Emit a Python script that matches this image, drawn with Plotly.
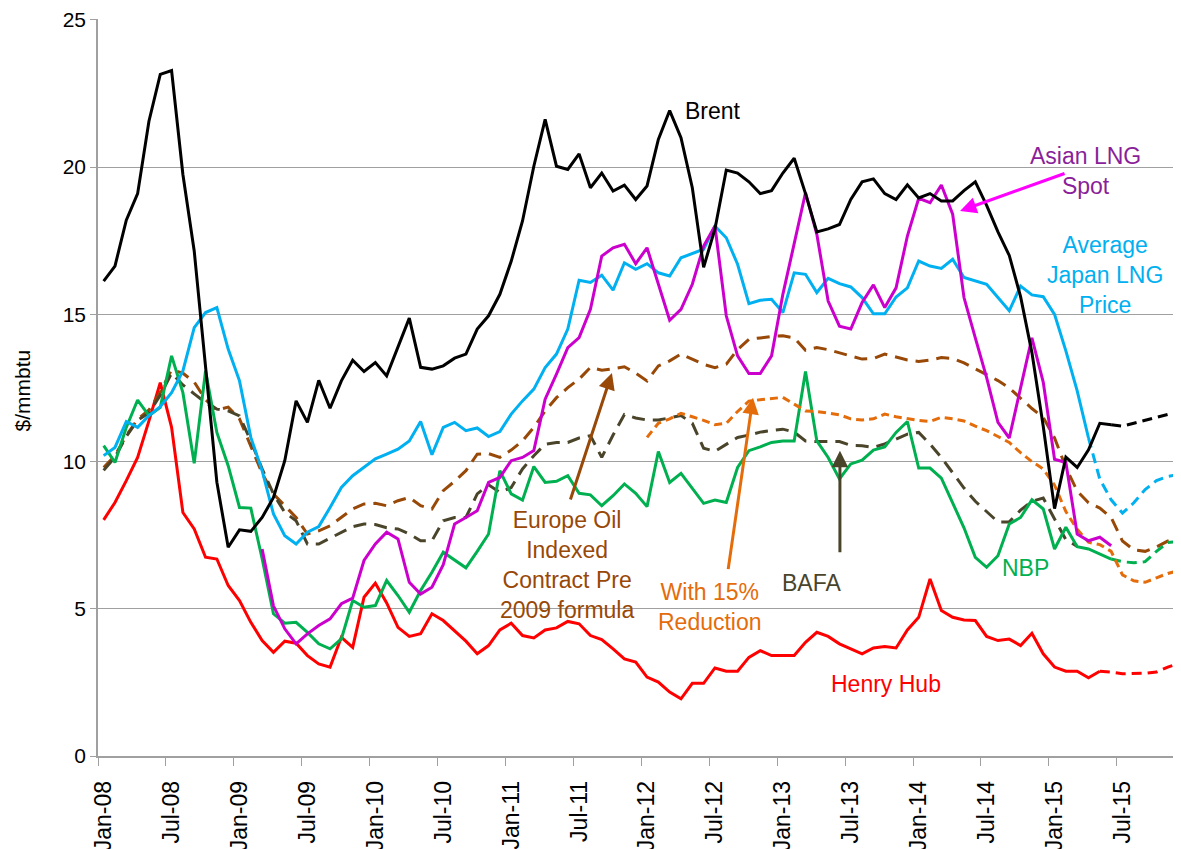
import pandas as pd
import plotly.graph_objects as go

# monthly categories Jan-08 .. Dec-15
months = [d.strftime("%b-%y") for d in pd.date_range("2008-01-01", "2015-12-01", freq="MS")]

brent = [
    16.13, 16.64, 18.2, 19.1, 21.56, 23.15, 23.28, 19.75, 17.15, 13.2, 9.3, 7.09,
    7.68, 7.63, 8.1, 8.78, 10.03, 12.06, 11.33, 12.76, 11.81, 12.74, 13.44, 13.06,
    13.36, 12.91, 13.87, 14.87, 13.2, 13.14, 13.25, 13.51, 13.65, 14.5, 14.95, 15.68,
    16.8, 18.17, 20.03, 21.62, 20.03, 19.92, 20.45, 19.3, 19.8, 19.19, 19.39, 18.9,
    19.36, 20.94, 21.92, 21.0, 19.3, 16.6, 17.9, 19.9, 19.8, 19.5, 19.1, 19.2,
    19.8, 20.3, 19.1, 17.8, 17.9, 18.05, 18.9, 19.5, 19.6, 19.1, 18.9, 19.4,
    18.95, 19.1, 18.85, 18.85, 19.2, 19.5, 18.7, 17.8, 17.0, 15.6, 13.7, 11.2,
    8.4, 10.15, 9.8, 10.4, 11.3, 11.25, 11.2, 11.3, 11.4, 11.5, 11.6, 11.67,
]
japan_lng = [
    10.2, 10.48, 11.36, 11.16, 11.56, 11.86, 12.34, 13.08, 14.55, 15.06, 15.23, 13.82,
    12.74, 10.82, 9.69, 8.22, 7.48, 7.2, 7.6, 7.79, 8.44, 9.12, 9.52, 9.8,
    10.09, 10.25, 10.42, 10.7, 11.36, 10.23, 11.16, 11.33, 11.05, 11.14, 10.85, 11.02,
    11.61, 12.06, 12.46, 13.19, 13.65, 14.5, 16.16, 16.08, 16.33, 15.82, 16.75, 16.53,
    16.72, 16.41, 16.3, 16.92, 17.06, 17.21, 18.0, 17.6, 16.7, 15.36, 15.48, 15.51,
    15.06, 16.41, 16.36, 15.74, 16.22, 16.04, 15.93, 15.57, 15.02, 15.02, 15.59, 15.9,
    16.81, 16.64, 16.56, 16.87, 16.25, 16.13, 16.02, 15.57, 15.12, 15.96, 15.66, 15.6,
    15.0, 13.76, 12.4, 10.8, 9.4, 8.7, 8.25, 8.6, 9.05, 9.35, 9.5, 9.55,
]
asian_spot = [None] * 14 + [
    7.03, 5.1, 4.32, 3.81, 4.15, 4.43, 4.66, 5.17, 5.36, 6.64,
    7.2, 7.6, 7.37, 5.9, 5.5, 5.73, 6.5, 7.88, 8.1, 8.33, 9.29, 9.46,
    10.03, 10.14, 10.37, 12.12, 12.97, 13.87, 14.21, 15.17, 16.98, 17.26, 17.38, 16.72,
    17.26, 16.02, 14.8, 15.17, 16.02, 17.32, 18.0, 14.95, 13.59, 12.99, 12.99, 13.59,
    15.68, 17.4, 19.13, 17.72, 15.45, 14.6, 14.5, 15.4, 16.0, 15.23, 15.9, 17.66,
    18.94, 18.79, 19.39, 18.4, 15.57, 14.2, 12.85, 11.33, 10.8, 12.5, 14.2, 12.7,
    10.08, 9.97, 7.54, 7.31, 7.43, 7.14,
] + [None] * 6
nbp = [
    10.54, 9.97, 11.16, 12.09, 11.56, 11.84, 13.59, 12.34, 9.94, 13.08, 10.99, 9.86,
    8.44, 8.42, 6.7, 4.83, 4.51, 4.54, 4.2, 3.81, 3.64, 3.98, 5.28, 5.05,
    5.11, 5.96, 5.45, 4.88, 5.62, 6.24, 6.92, 6.64, 6.39, 6.95, 7.54, 9.69,
    8.9, 8.69, 9.83, 9.29, 9.33, 9.52, 8.92, 8.87, 8.5, 8.84, 9.24, 8.92,
    8.47, 10.34, 9.29, 9.6, 9.07, 8.58, 8.69, 8.61, 9.8, 10.37, 10.5, 10.65,
    10.7, 10.7, 13.06, 10.7, 10.14, 9.41, 9.92, 10.05, 10.39, 10.5, 10.99, 11.36,
    9.78, 9.78, 9.44, 8.6, 7.75, 6.75, 6.41, 6.8, 7.88, 8.1, 8.7, 8.39,
    7.03, 7.77, 7.11, 7.03, 6.86, 6.69, 6.6, 6.56, 6.6, 6.95, 7.25, 7.29,
]
henry_hub = [
    8.02, 8.61, 9.35, 10.14, 11.38, 12.68, 11.16, 8.27, 7.71, 6.75, 6.69, 5.79,
    5.28, 4.54, 3.92, 3.52, 3.9, 3.83, 3.41, 3.13, 3.02, 4.03, 3.69, 5.39,
    5.87, 5.2, 4.37, 4.06, 4.15, 4.83, 4.6, 4.26, 3.9, 3.47, 3.75, 4.28,
    4.51, 4.09, 4.01, 4.28, 4.35, 4.57, 4.49, 4.09, 3.95, 3.64, 3.3, 3.19,
    2.68, 2.51, 2.17, 1.94, 2.47, 2.47, 2.99, 2.88, 2.88, 3.35, 3.58, 3.41,
    3.41, 3.41, 3.86, 4.2, 4.06, 3.81, 3.64, 3.47, 3.67, 3.72, 3.67, 4.28,
    4.71, 6.01, 4.94, 4.71, 4.62, 4.6, 4.06, 3.92, 3.97, 3.75, 4.17, 3.47,
    3.02, 2.88, 2.88, 2.66, 2.88, 2.85, 2.79, 2.79, 2.81, 2.85, 3.02, 3.15,
]
oil_indexed = [
    9.8, 10.2, 10.88, 11.44, 11.75, 12.35, 13.12, 13.0, 12.7, 12.1, 11.75, 11.85,
    11.45, 10.5, 9.6, 8.9, 8.5, 8.1, 7.54, 7.65, 7.82, 8.1, 8.39, 8.56,
    8.58, 8.5, 8.67, 8.78, 8.5, 8.39, 9.01, 9.33, 9.69, 10.25, 10.27, 10.14,
    10.39, 10.7, 11.16, 11.72, 12.17, 12.51, 12.8, 13.2, 13.1, 13.15, 13.22, 13.0,
    12.74, 13.25, 13.42, 13.65, 13.48, 13.3, 13.19, 13.31, 13.8, 14.15, 14.2, 14.25,
    14.27, 14.2, 13.78, 13.87, 13.8, 13.7, 13.6, 13.48, 13.5, 13.65, 13.55, 13.45,
    13.4, 13.45, 13.53, 13.5, 13.35, 13.14, 12.95, 12.75, 12.5, 12.15, 11.8, 11.5,
    10.8, 9.8, 9.0, 8.6, 8.42, 8.1, 7.3, 7.0, 6.95, 7.1, 7.3, 7.35,
]
bafa = [
    9.7, 10.15, 10.85, 11.4, 11.65, 12.25, 13.0, 12.6, 12.3, 12.0, 11.78, 11.72,
    11.55, 10.7, 9.75, 8.9, 8.27, 7.99, 7.2, 7.2, 7.4, 7.6, 7.79, 7.88,
    7.86, 7.75, 7.71, 7.54, 7.31, 7.31, 7.99, 8.1, 8.1, 8.9, 9.21, 8.95,
    9.12, 9.75, 10.2, 10.59, 10.65, 10.65, 10.8, 10.88, 10.14, 10.9, 11.6, 11.48,
    11.41, 11.41, 11.48, 11.56, 11.3, 10.45, 10.35, 10.6, 10.82, 10.9, 11.0, 11.05,
    11.1, 11.0, 10.7, 10.68, 10.68, 10.68, 10.55, 10.54, 10.48, 10.6, 10.76, 10.93,
    10.99, 10.59, 10.14, 9.63, 9.1, 8.65, 8.3, 7.95, 7.95, 8.35, 8.65, 8.76,
    8.05, 7.35, 7.12,
] + [None] * 9
reduction_15 = [None] * 48 + [
    10.82, 11.3, 11.45, 11.64, 11.52, 11.4, 11.25, 11.3, 11.7, 12.05, 12.1, 12.15,
    12.18, 11.95, 11.72, 11.7, 11.65, 11.59, 11.45, 11.41, 11.45, 11.61, 11.52, 11.45,
    11.4, 11.36, 11.5, 11.45, 11.38, 11.2, 11.05, 10.85, 10.65, 10.3, 10.0, 9.75,
    9.2, 8.3, 7.7, 7.26, 7.18, 6.95, 6.15, 5.95, 5.9, 6.05, 6.2, 6.3,
]

# index where the projected (dashed) part of each series begins
brent_proj = months.index("Jun-15")
japan_proj = months.index("Apr-15")
nbp_proj = months.index("Jun-15")
henry_proj = months.index("May-15")

tick_labels = months[::6]
FONT = "Liberation Sans, Arial, sans-serif"

x = list(range(len(months)))


def split(values, start):
    solid = [v if i <= start else None for i, v in enumerate(values)]
    dashed = [v if i >= start else None for i, v in enumerate(values)]
    return solid, dashed


fig = go.Figure()


def add(values, color, dash="solid", width=3):
    fig.add_trace(
        go.Scatter(
            x=x,
            y=values,
            mode="lines",
            line=dict(color=color, width=width, dash=dash),
            hoverinfo="skip",
            showlegend=False,
        )
    )


TAIL = "10px,6px"
hh_s, hh_d = split(henry_hub, henry_proj)
add(hh_s, "#ff0000")
add(hh_d, "#ff0000", TAIL)
add(oil_indexed, "#984807", "13px,8px")
add(bafa, "#4a452a", "13px,8px")
nbp_s, nbp_d = split(nbp, nbp_proj)
add(nbp_s, "#00b050")
add(nbp_d, "#00b050", TAIL)
add(reduction_15, "#e46c0a", "8px,5px")
jp_s, jp_d = split(japan_lng, japan_proj)
add(jp_s, "#00b0f0")
add(jp_d, "#00b0f0", TAIL)
add(asian_spot, "#cc00cc")
br_s, br_d = split(brent, brent_proj)
add(br_s, "#000000")
add(br_d, "#000000", TAIL)

labels = [
    ("Brent", 53.8, 21.9, "#000000"),
    ("Asian LNG<br>Spot", 86.7, 19.86, "#8a1f99"),
    ("Average<br>Japan LNG<br>Price", 88.45, 16.33, "#00b0f0"),
    ("Europe Oil<br>Indexed<br>Contract Pre<br>2009 formula", 40.9, 6.47, "#984807"),
    ("With 15%<br>Reduction", 53.6, 5.07, "#e46c0a"),
    ("BAFA", 62.5, 5.86, "#4a452a"),
    ("NBP", 81.4, 6.4, "#00b050"),
    ("Henry Hub", 69.1, 2.46, "#ff0000"),
]
for text, ax_, ay_, col in labels:
    fig.add_annotation(
        x=ax_, y=ay_, text=text, showarrow=False,
        font=dict(family=FONT, size=23, color=col),
    )

arrows = [
    (44.9, 13.01, -42, 128, "#984807"),
    (57.36, 12.17, -25, 173, "#e46c0a"),
    (65.04, 10.37, 0, 103, "#4a452a"),
    (75.65, 18.51, 106, -38, "#ff00ff"),
]
for hx, hy, dx, dy, col in arrows:
    fig.add_annotation(
        x=hx, y=hy, ax=dx, ay=dy, text="", showarrow=True,
        arrowhead=2, arrowsize=1.1, arrowwidth=3, arrowcolor=col,
    )

fig.add_annotation(
    xref="paper", yref="paper", x=-0.0702, y=0.496, text="$/mmbtu",
    xanchor="center", yanchor="middle",
    textangle=-90, showarrow=False,
    font=dict(family=FONT, size=21, color="#000000"),
)

fig.update_layout(
    width=1181,
    height=849,
    margin=dict(l=90, r=8, t=11, b=101, autoexpand=False),
    paper_bgcolor="white",
    plot_bgcolor="white",
    font=dict(family=FONT, color="#000000"),
)
fig.update_xaxes(
    range=[-0.5, 95.17],
    automargin=False,
    tickmode="array",
    tickvals=x[::6],
    ticktext=tick_labels,
    tickangle=-90,
    tickfont=dict(size=23),
    ticks="outside",
    ticklen=14,
    tickcolor="rgba(0,0,0,0)",
    showgrid=False,
    showline=True,
    linecolor="#a0a0a0",
    linewidth=1.5,
    zeroline=False,
    minor=dict(
        tickmode="array",
        tickvals=[v - 0.5 for v in x[::6]],
        ticks="outside",
        ticklen=8,
        tickcolor="#a0a0a0",
        showgrid=False,
    ),
)
fig.update_yaxes(
    range=[0, 25.03],
    automargin=False,
    tickvals=[0, 5, 10, 15, 20, 25],
    tickfont=dict(size=21),
    ticks="outside",
    ticklen=6,
    tickcolor="#a0a0a0",
    showgrid=True,
    gridcolor="#a0a0a0",
    gridwidth=1.3,
    showline=True,
    linecolor="#a0a0a0",
    linewidth=1.5,
    zeroline=False,
)

fig.write_html("out.html")
